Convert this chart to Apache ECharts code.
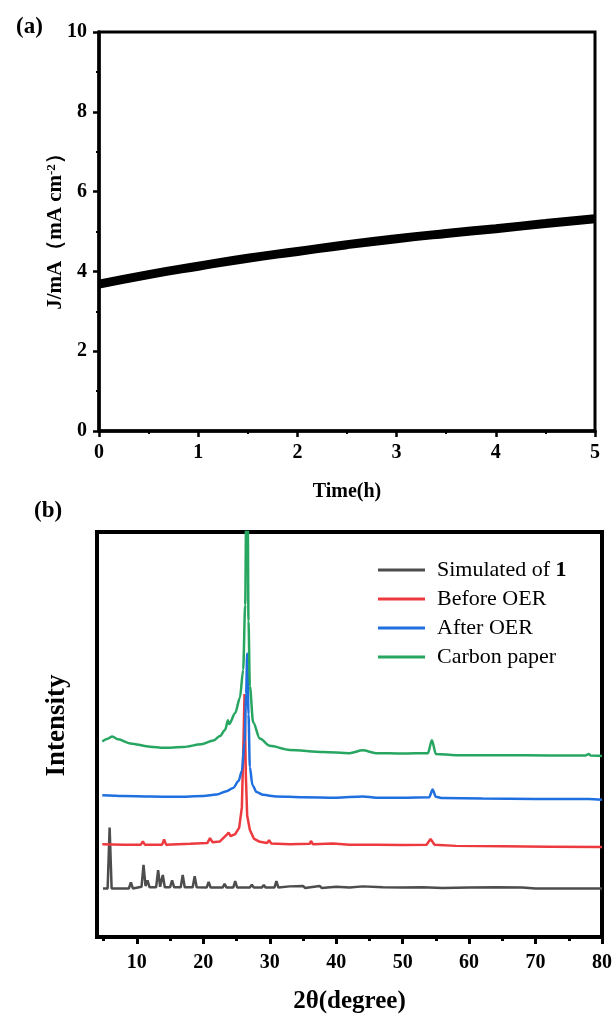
<!DOCTYPE html>
<html>
<head>
<meta charset="utf-8">
<script src="https://cdn.jsdelivr.net/npm/echarts@6/dist/echarts.min.js"></script>
<style>
html,body{margin:0;padding:0;background:#fff;}
#c{width:616px;height:1018px;}
</style>
</head>
<body>
<div id="c"></div>
<script>
// ---- Panel (a): chronoamperometry ----
const timeH = [0, 0.5, 1, 1.5, 2, 2.5, 3, 3.5, 4, 4.5, 5];
const currentJ = [3.68, 3.92, 4.13, 4.33, 4.5, 4.67, 4.82, 4.95, 5.07, 5.2, 5.32];

// ---- Panel (b): XRD patterns [2theta, intensity (offset, a.u.)] ----
const simulated = [[4.9,12],[5.6,12],[5.9,27],[6.2,12],[8.8,12],[9.1,13.5],[9.4,12],[10.7,12.4],[11.0,17.8],[11.3,12.6],[11.6,14],[11.9,12.3],[12.9,12.3],[13.2,16.5],[13.5,12.4],[13.9,15.3],[14.2,12.3],[15.0,12.3],[15.3,14],[15.6,12.3],[16.6,12.3],[16.9,15.3],[17.2,12.3],[18.4,12.3],[18.7,15],[19.0,12.3],[20.5,12.2],[20.8,13.6],[21.1,12.2],[22.9,12.2],[23.2,13.1],[23.5,12.2],[24.5,12.2],[24.8,13.8],[25.1,12.2],[27.0,12.2],[27.3,12.9],[27.6,12.2],[28.8,12.2],[29.1,12.8],[29.4,12.2],[30.7,12.2],[31.0,13.8],[31.3,12.2],[33,12.5],[33.3,12.2],[35,12.6],[35.3,12.1],[37.5,12.6],[37.8,12.1],[40,12.4],[42,12.2],[44,12.5],[44.3,12.1],[47,12.3],[50,12.2],[53,12.3],[56,12.1],[60,12.2],[64,12.3],[68,12.2],[70,12],[80,12]];
const beforeOER = [[4.8,22.9],[8,22.8],[10.6,22.8],[10.9,23.6],[11.2,22.8],[13.8,22.8],[14.1,24.1],[14.4,22.8],[18,23],[20.6,23.2],[21.0,24.4],[21.4,23.4],[22.5,23.6],[23.5,25.2],[23.8,25.8],[24.1,24.9],[24.8,25.4],[25.4,27],[25.8,32],[26.0,45],[26.2,60],[26.4,40],[26.6,30],[27,26.5],[27.6,24.3],[28.5,23.5],[29.6,23.2],[29.9,23.9],[30.2,23.1],[33,22.9],[36,23],[36.2,23.7],[36.5,22.9],[39.5,23.1],[42,22.8],[46,22.8],[50,22.7],[53.6,22.8],[54.2,24.2],[54.8,22.8],[58,22.5],[65,22.4],[72,22.3],[80,22.2]];
const afterOER = [[4.8,35],[8,34.8],[12,34.7],[16,34.6],[20,34.8],[22,35.2],[23.5,36],[24.5,36.8],[25.3,38.5],[25.8,41],[26.2,48],[26.45,60],[26.6,70],[26.8,55],[27.0,42],[27.4,37.5],[28,35.8],[29,35.1],[31,34.7],[35,34.5],[40,34.4],[44,34.7],[46,34.4],[50,34.4],[54,34.5],[54.5,36.4],[55,34.6],[56,34.3],[62,34.2],[70,34.1],[78,34.1],[80,33.9]];
const carbonPaper = [[4.8,48.3],[5.5,48.9],[6.3,49.5],[7.2,48.8],[9,47.8],[12,47],[14,46.7],[17,46.9],[19.7,47.6],[21.5,48.5],[22.5,49.6],[23.3,51.2],[23.7,53.5],[23.9,52.6],[24.8,55.3],[25.5,59],[26.0,66],[26.3,82],[26.5,115],[26.65,115],[26.8,78],[27.0,62],[27.5,53],[28.5,49],[30,47.2],[33,46.2],[38,45.7],[42,45.4],[44,46.1],[46,45.4],[50,45.3],[53.8,45.4],[54.4,48.6],[55,45.2],[58,44.9],[65,44.9],[72,44.8],[77.5,44.8],[78,45.2],[78.3,44.8],[80,44.7]];

const xrdNames = ['Simulated of 1', 'Before OER', 'After OER', 'Carbon paper'];
const xrdColors = ['#4d4d4d', '#ec3a3f', '#1f6fe0', '#27a661'];
const xLabelsB = [10, 20, 30, 40, 50, 60, 70, 80];
const xMinorB = [5, 15, 25, 35, 45, 55, 65, 75];

const SERIF = '"Liberation Serif", "Times New Roman", serif';

const chart = echarts.init(document.getElementById('c'), null, {renderer: 'canvas'});

const boldLabel = {fontFamily: SERIF, fontWeight: 'bold', fontSize: 20, color: '#000'};

chart.setOption({
  backgroundColor: '#fff',
  animation: false,
  title: [
    {text: '(a)', left: 11, top: 11, textStyle: {fontFamily: SERIF, fontWeight: 'bold', fontSize: 23, color: '#000'}},
    {text: '(b)', left: 29, top: 495, textStyle: {fontFamily: SERIF, fontWeight: 'bold', fontSize: 23, color: '#000'}}
  ],
  legend: {
    data: xrdNames,
    orient: 'vertical',
    left: 378,
    top: 559,
    padding: 0,
    icon: 'rect',
    itemWidth: 47,
    itemHeight: 3,
    itemGap: 7,
    selectedMode: false,
    formatter: function (n) {
      return n === 'Simulated of 1' ? '{n|Simulated of }{b|1}' : '{n|' + n + '}';
    },
    textStyle: {
      padding: [0, 0, 0, 7],
      rich: {
        n: {fontFamily: SERIF, fontSize: 22, color: '#000', lineHeight: 22},
        b: {fontFamily: SERIF, fontSize: 22, fontWeight: 'bold', color: '#000', lineHeight: 22}
      }
    }
  },
  grid: [
    {left: 99, top: 32, right: 21, height: 399, show: true, borderColor: '#000', borderWidth: 3, backgroundColor: 'transparent'},
    {left: 97, top: 532, right: 14, bottom: 81, show: true, borderColor: '#000', borderWidth: 4, backgroundColor: 'transparent'}
  ],
  xAxis: [
    {
      gridIndex: 0, type: 'value', min: 0, max: 5, interval: 1,
      name: 'Time(h)', nameLocation: 'middle', nameGap: 51, nameMoveOverlap: false,
      nameTextStyle: {fontFamily: SERIF, fontWeight: 'bold', fontSize: 20, color: '#000'},
      axisLine: {show: true, onZero: false, lineStyle: {color: '#000', width: 3.5}},
      axisTick: {show: true, inside: false, length: 6, lineStyle: {color: '#000', width: 2.5}},
      minorTick: {show: true, splitNumber: 2, length: 3, lineStyle: {color: '#000', width: 2}},
      axisLabel: Object.assign({margin: 12}, boldLabel),
      splitLine: {show: false}
    },
    {
      gridIndex: 1, type: 'value', min: 4, max: 80,
      name: '2θ(degree)', nameLocation: 'middle', nameGap: 52, nameMoveOverlap: false,
      nameTextStyle: {fontFamily: SERIF, fontWeight: 'bold', fontSize: 25, color: '#000'},
      axisLine: {show: true, onZero: false, lineStyle: {color: '#000', width: 4}},
      axisTick: {show: true, inside: false, length: 7, customValues: xLabelsB, lineStyle: {color: '#000', width: 3}},
      axisLabel: Object.assign({margin: 16, customValues: xLabelsB}, boldLabel),
      splitLine: {show: false}
    },
    {
      gridIndex: 1, type: 'value', min: 4, max: 80, position: 'bottom',
      axisLine: {show: false},
      axisTick: {show: true, inside: false, length: 4, customValues: xMinorB, lineStyle: {color: '#000', width: 3}},
      axisLabel: {show: false},
      splitLine: {show: false}
    }
  ],
  yAxis: [
    {
      gridIndex: 0, type: 'value', min: 0, max: 10, interval: 2,
      name: '{a|J/mA（mA cm}{s|-2}{a|）}', nameLocation: 'middle', nameGap: 33, nameMoveOverlap: false,
      nameTextStyle: {
        padding: [0, 0, 0, 10],
        rich: {
          a: {fontFamily: SERIF, fontWeight: 'bold', fontSize: 21, color: '#000'},
          s: {fontFamily: SERIF, fontWeight: 'bold', fontSize: 13, color: '#000', verticalAlign: 'top', padding: [0, 0, 8, 0]}
        }
      },
      axisLine: {show: true, onZero: false, lineStyle: {color: '#000', width: 3.5}},
      axisTick: {show: true, inside: false, length: 6, lineStyle: {color: '#000', width: 2.5}},
      minorTick: {show: true, splitNumber: 2, length: 3, lineStyle: {color: '#000', width: 2}},
      axisLabel: Object.assign({margin: 12}, boldLabel),
      splitLine: {show: false}
    },
    {
      gridIndex: 1, type: 'value', min: 0, max: 100,
      name: 'Intensity', nameLocation: 'middle', nameGap: 26, nameMoveOverlap: false,
      nameTextStyle: {fontFamily: SERIF, fontWeight: 'bold', fontSize: 27, color: '#000', padding: [0, 0, 0, 18]},
      axisLine: {show: true, onZero: false, lineStyle: {color: '#000', width: 4}},
      axisTick: {show: false},
      axisLabel: {show: false},
      splitLine: {show: false}
    }
  ],
  series: [
    {
      type: 'line', xAxisIndex: 0, yAxisIndex: 0,
      data: timeH.map((t, i) => [t, currentJ[i]]),
      smooth: true, symbol: 'none',
      lineStyle: {color: '#000', width: 9}
    },
    {name: xrdNames[0], type: 'line', xAxisIndex: 1, yAxisIndex: 1, data: simulated, symbol: 'none', clip: true,
     lineStyle: {color: xrdColors[0], width: 2.5}, itemStyle: {color: xrdColors[0]}},
    {name: xrdNames[1], type: 'line', xAxisIndex: 1, yAxisIndex: 1, data: beforeOER, symbol: 'none', clip: true,
     lineStyle: {color: xrdColors[1], width: 2.5}, itemStyle: {color: xrdColors[1]}},
    {name: xrdNames[2], type: 'line', xAxisIndex: 1, yAxisIndex: 1, data: afterOER, symbol: 'none', clip: true,
     smooth: 0.3, smoothMonotone: 'x',
     lineStyle: {color: xrdColors[2], width: 2.5}, itemStyle: {color: xrdColors[2]}},
    {name: xrdNames[3], type: 'line', xAxisIndex: 1, yAxisIndex: 1, data: carbonPaper, symbol: 'none', clip: true,
     smooth: 0.3, smoothMonotone: 'x',
     lineStyle: {color: xrdColors[3], width: 2.5}, itemStyle: {color: xrdColors[3]}}
  ]
});
</script>
</body>
</html>
